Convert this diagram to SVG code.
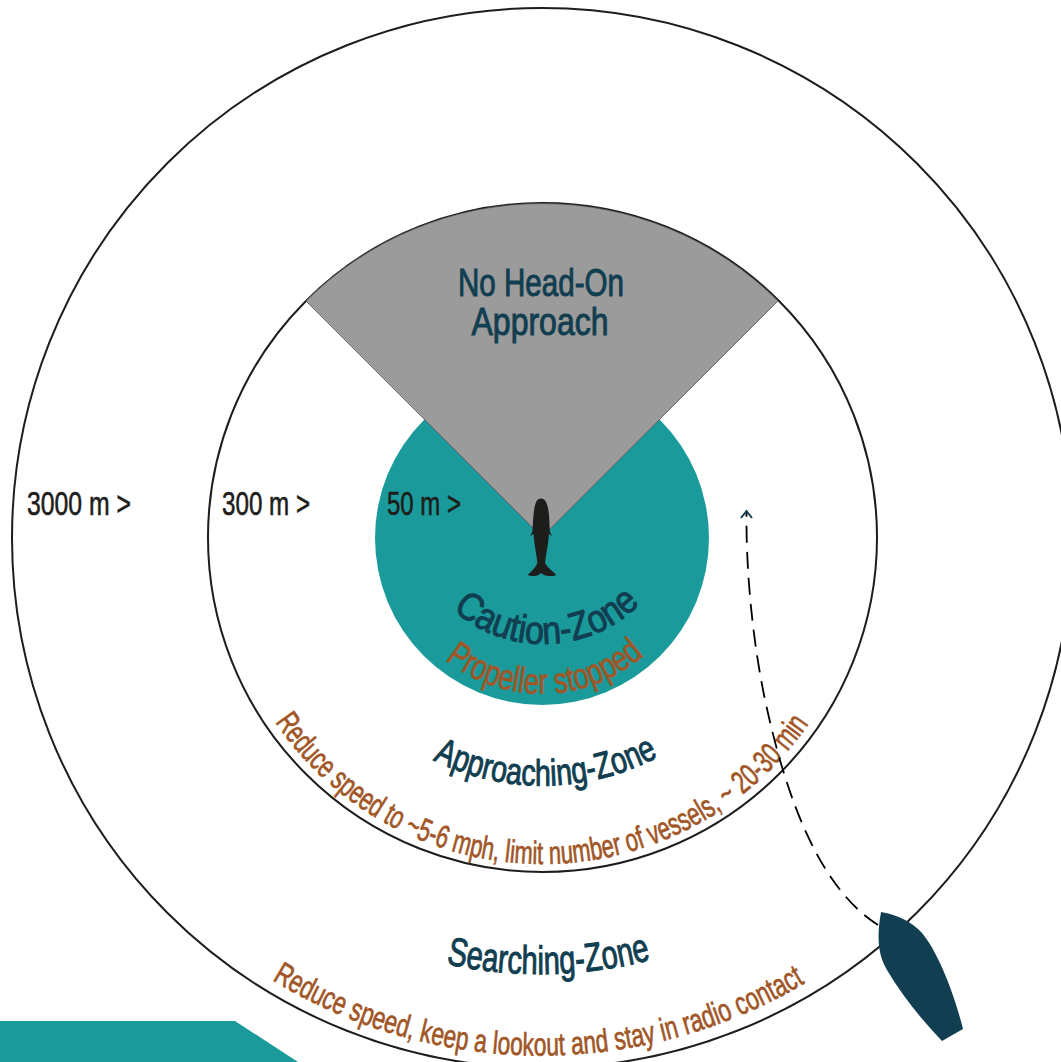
<svg xmlns="http://www.w3.org/2000/svg" width="1061" height="1062" viewBox="0 0 1061 1062">
<style>
text{font-family:"Liberation Sans Narrow","Liberation Sans",sans-serif}
.ring{fill:none;stroke:#1d1d1b;stroke-width:2}
.zone{fill:#113e50;stroke:#113e50;stroke-width:1}
.note{fill:#a15626;stroke:#a15626;stroke-width:.7}
.dist{fill:#1d1d1b;font-size:33px;stroke:#1d1d1b;stroke-width:.6}
</style>
<defs>
<path id="p-outer" d="M272 980A517 517 0 0 0 805 983"/>
<path id="p-mid" d="M275 722A323 323 0 0 0 810 722"/>
<path id="p-app" d="M433 760A247 247 0 0 0 658 757"/>
<path id="p-sea" d="M446 964A437 437 0 0 0 650 960"/>
<path id="p-cau" d="M453 610A137 137 0 0 0 638 606"/>
<path id="p-pro" d="M445 660A155 155 0 0 0 642 657"/>
</defs>
<rect width="1061" height="1062" fill="#fff"/>
<polygon id="corner" points="0,1021 235,1021 298,1062 0,1062" fill="#1b9a9b"/>
<g id="zone-searching">
<circle class="ring" cx="542" cy="538" r="530"/>
<text class="dist" x="27" y="515" textLength="104" lengthAdjust="spacingAndGlyphs">3000 m &gt;</text>
<text class="zone" font-size="40"><textPath href="#p-sea" textLength="207" lengthAdjust="spacingAndGlyphs">Searching-Zone</textPath></text>
<text class="note" font-size="32"><textPath href="#p-outer" textLength="560" lengthAdjust="spacingAndGlyphs">Reduce speed, keep a lookout and stay in radio contact</textPath></text>
</g>
<g id="zone-approaching">
<circle class="ring" cx="542.500" cy="537.500" r="334.500"/>
<text class="dist" x="222" y="515" textLength="88" lengthAdjust="spacingAndGlyphs">300 m &gt;</text>
<text class="zone" font-size="37"><textPath href="#p-app" textLength="234" lengthAdjust="spacingAndGlyphs">Approaching-Zone</textPath></text>
<text class="note" font-size="32"><textPath href="#p-mid" textLength="628" lengthAdjust="spacingAndGlyphs">Reduce speed to ~5-6 mph, limit number of vessels, ~ 20-30 min</textPath></text>
</g>
<g id="zone-caution">
<circle cx="542" cy="538" r="167" fill="#1b9a9b"/>
<text class="dist" x="387" y="515" textLength="74" lengthAdjust="spacingAndGlyphs">50 m &gt;</text>
<text class="zone" font-size="39"><textPath href="#p-cau" textLength="206" lengthAdjust="spacingAndGlyphs">Caution-Zone</textPath></text>
<text class="note" font-size="36"><textPath href="#p-pro" textLength="216" lengthAdjust="spacingAndGlyphs">Propeller stopped</textPath></text>
</g>
<g id="no-head-on">
<path d="M306 301A334.500 334.500 0 0 1 778 301L542 537Z" fill="#9b9b9b" stroke="#555" stroke-width=".8"/>
<text class="zone" font-size="39" text-anchor="middle" x="541" y="296" textLength="166" lengthAdjust="spacingAndGlyphs">No Head-On</text>
<text class="zone" font-size="39" text-anchor="middle" x="540" y="335" textLength="137" lengthAdjust="spacingAndGlyphs">Approach</text>
</g>
<g id="whale">
<path d="M541 498.500C536 498.500 534.500 505 533.500 515C532.800 522 532.800 528 532.300 532L530 536L533.500 534C534 542 536 552 537.300 562C537 566 533 570 528 574.500C528 576 531 576 534 576C537 576 539 575 541 573C543 575 546 576 549 576C552 576 556 576 556 574.500C551 570 545.500 566 545 562C546.500 552 548.500 542 549 534L552 536L550 532C549.500 528 549.500 522 549 515C548 505 546 498.500 541 498.500Z" fill="#1d1d1b"/>
</g>
<g id="connectors">
<path d="M878 925C820 888 786 800 764 695C752 635 746 570 746.500 512" fill="none" stroke="#000" stroke-width="1.800" stroke-dasharray="17 9"/>
<path d="M741 518L746.500 511L752 518" fill="none" stroke="#113e50" stroke-width="2"/>
</g>
<g id="boat">
<path d="M881 912C898 915 912 922 922 933C938 952 954 993 963 1029L942 1041C920 1018 901 994 887 970C879 957 876 940 881 912Z" fill="#113e50"/>
</g>
</svg>
